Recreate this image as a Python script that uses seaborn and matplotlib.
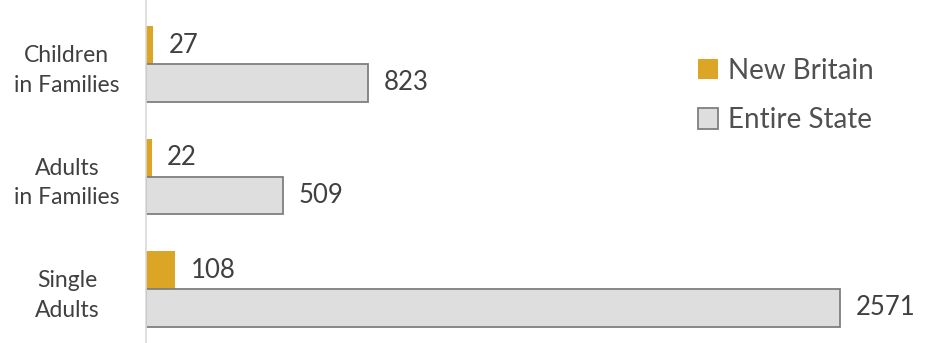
import numpy as np
import pandas as pd
import matplotlib.pyplot as plt
import seaborn as sns
from matplotlib.patches import Patch

# Data
categories = ["Children\nin Families", "Adults\nin Families", "Single\nAdults"]
new_britain = [27, 22, 108]
entire_state = [823, 509, 2571]
series = ["New Britain", "Entire State"]

df = pd.DataFrame({
    "category": categories * 2,
    "value": new_britain + entire_state,
    "series": [series[0]] * 3 + [series[1]] * 3,
})

sns.set_style("white")
plt.rcParams['font.family'] = ['Lato', 'DejaVu Sans']

gold = "#DBA626"
grey_fill = "#DEDEDE"
grey_edge = "#7F7F7F"
txt = "#404040"

fig = plt.figure(figsize=(9.25, 3.43), dpi=100)
ax = fig.add_axes([146 / 925, 0.0, 1 - 146 / 925, 1.0])

sns.barplot(data=df, x="value", y="category", hue="series", orient="h",
            palette=[gold, grey_fill], width=0.67, ax=ax, legend=False,
            saturation=1)

# style bars
for bar in ax.containers[1]:
    bar.set_edgecolor(grey_edge)
    bar.set_linewidth(1.3)
for bar in ax.containers[0]:
    bar.set_edgecolor("none")

# value labels
for cont in ax.containers:
    ax.bar_label(cont, padding=11, fontsize=18.5, color=txt)

ax.set_xlim(0, 2885)
ax.set_ylim(2.48, -0.57)
ax.set_xlabel("")
ax.set_ylabel("")
ax.set_xticks([])
ax.tick_params(axis="y", length=0, pad=57)
for lab in ax.get_yticklabels():
    lab.set_fontsize(16.5)
    lab.set_color(txt)
    lab.set_horizontalalignment("center")
    lab.set_linespacing(1.5)

for s in ["top", "right", "bottom"]:
    ax.spines[s].set_visible(False)
ax.spines["left"].set_color("#D9D9D9")
ax.spines["left"].set_linewidth(1.2)

# legend
handles = [Patch(facecolor=gold, edgecolor="none"),
           Patch(facecolor=grey_fill, edgecolor=grey_edge, linewidth=1.3)]
leg = ax.legend(handles, series, loc="upper left", bbox_to_anchor=(0.676, 0.905),
                frameon=False, fontsize=20, handlelength=0.75, handleheight=0.75,
                handletextpad=0.35, labelspacing=0.85)
for t in leg.get_texts():
    t.set_color("#505050")

plt.savefig("out.png", dpi=100)
